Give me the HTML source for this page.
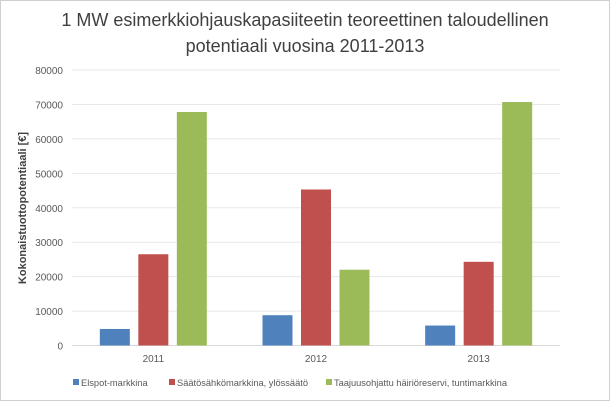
<!DOCTYPE html>
<html><head><meta charset="utf-8"><style>
body{margin:0;background:#fff}
svg{display:block;font-family:"Liberation Sans",sans-serif}
</style></head><body>
<svg width="610" height="401">
<rect x="0.5" y="0.5" width="609" height="400" fill="#fff" stroke="#d0d0d0"/>
<text x="305" y="26" text-anchor="middle" font-size="18" fill="#404040">1 MW esimerkkiohjauskapasiiteetin teoreettinen taloudellinen</text>
<text x="305" y="52" text-anchor="middle" font-size="18" fill="#404040">potentiaali vuosina 2011-2013</text>
<text transform="translate(26,208) rotate(-90)" text-anchor="middle" font-size="11" font-weight="bold" fill="#404040">Kokonaistuottopotentiaali [€]</text>
<g id="grid"></g><g id="bars"></g><g id="xl"></g>
<g font-size="9.3" fill="#595959">
<rect x="73" y="379" width="6" height="6" fill="#4f81bd"/><text x="81" y="386">Elspot-markkina</text>
<rect x="169" y="379" width="6" height="6" fill="#c0504d"/><text x="177" y="386" textLength="131">Säätösähkömarkkina, ylössäätö</text>
<rect x="326" y="379" width="6" height="6" fill="#9bbb59"/><text x="334" y="386" textLength="173">Taajuusohjattu häiriöreservi, tuntimarkkina</text>
</g>
</svg>
<script>
const categories=["2011","2012","2013"];
const elspot=[4800,8800,5800];
const saato=[26500,45300,24300];
const taajuus=[67800,22000,70700];
const ticks=[0,10000,20000,30000,40000,50000,60000,70000,80000];
const NS="http://www.w3.org/2000/svg";
const x0=72,x1=560,y0=345.5,yTop=70,maxV=80000;
const y=v=>y0-(v/maxV)*(y0-yTop);
const bw=(x1-x0)/categories.length;
function mk(t,a,p){const e=document.createElementNS(NS,t);for(const k in a)e.setAttribute(k,a[k]);p.appendChild(e);return e;}
const g=document.getElementById('grid');
ticks.forEach(t=>{
 const l=mk('line',{x1:x0,x2:x1,y1:y(t),y2:y(t),stroke:t===0?'#d9d9d9':'#e8e8e8','stroke-width':1},g);
 
 
 const tx=mk('text',{x:63,y:y(t)+4,'text-anchor':'end','font-size':10,fill:'#595959'},g);
 tx.textContent=t;
 
 
});
const series=[[elspot,'#4f81bd','elspot'],[saato,'#c0504d','saato'],[taajuus,'#9bbb59','taajuus']];
const b=document.getElementById('bars'),xl=document.getElementById('xl');
const w=30,gap=8.5;
categories.forEach((c,i)=>{
 const cx=x0+bw*(i+0.5);
 series.forEach((s,j)=>{
  const bx=cx+(j-1)*(w+gap)-w/2;
  const r=mk('rect',{x:bx,y:y(s[0][i]),width:w,height:y0-y(s[0][i]),fill:s[1]},b);
  
  
 });
 const t=mk('text',{x:cx,y:362,'text-anchor':'middle','font-size':10,fill:'#595959'},xl);
 t.textContent=c;
 
 
});
</script>
</body></html>
